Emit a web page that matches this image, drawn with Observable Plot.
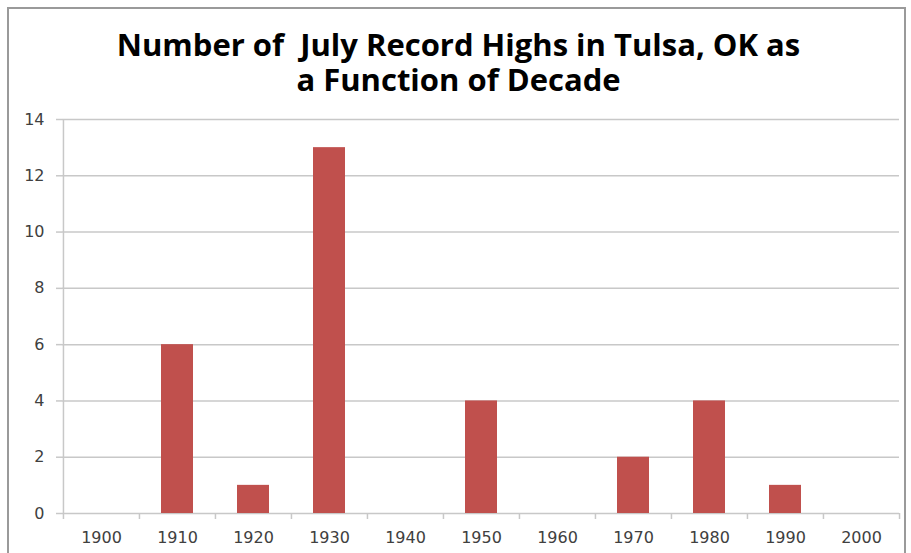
<!DOCTYPE html>
<html>
<head>
<meta charset="utf-8">
<script src="https://cdn.jsdelivr.net/npm/d3@7"></script>
<script src="https://cdn.jsdelivr.net/npm/@observablehq/plot@0.6"></script>
<style>
  html, body { margin: 0; padding: 0; background: #fff; overflow: hidden; }
  #frame { position: absolute; left: 7px; top: 7px; width: 899px; height: 600px; border: 2px solid #9a9a9a; box-sizing: border-box; }
  #title { position: absolute; left: 0; top: 27px; width: 917px; text-align: center; font-family: "Open Sans", sans-serif; font-weight: bold; font-size: 31px; line-height: 35px; color: #000; white-space: pre; }
  #chart { position: absolute; left: 0; top: 0; }
</style>
</head>
<body>
<div id="frame"></div>
<div id="title">Number of  July Record Highs in Tulsa, OK as
a Function of Decade</div>
<div id="chart"></div>
<script>
const decades = ["1900","1910","1920","1930","1940","1950","1960","1970","1980","1990","2000"];
const counts  = [0, 6, 1, 13, 0, 4, 0, 2, 4, 1, 0];
const yTicks  = [0, 2, 4, 6, 8, 10, 12, 14];

const data = decades.map((d, i) => ({decade: d, count: counts[i]}));

const W = 911, H = 553;
const mL = 62, mR = 12, mT = 119, mB = 40;
const step = (W - mL - mR) / decades.length;
const gridColor = "#c8c8c8";
const font = "DejaVu Sans, sans-serif";

const chart = Plot.plot({
  width: W,
  height: H,
  marginLeft: mL,
  marginRight: mR,
  marginTop: mT,
  marginBottom: mB,
  style: { fontFamily: font, fontSize: "16px", color: "#404040", background: "transparent", overflow: "visible" },
  x: { type: "band", domain: decades, paddingInner: 0.58, paddingOuter: 0.29 },
  y: { domain: [0, 14] },
  marks: [
    Plot.gridY(yTicks, { stroke: gridColor, strokeOpacity: 1, strokeWidth: 1.5 }),
    Plot.axisY(yTicks, { tickSize: 6, tickPadding: 12, stroke: gridColor, strokeOpacity: 1, strokeWidth: 1.5, fill: "#404040", label: null, fontSize: 16, style: "letter-spacing: 1px" }),
    Plot.ruleX(decades, { x: d => d, y1: 0, y2: 0, dx: -step / 2, insetBottom: -6, stroke: gridColor, strokeWidth: 1.5 }),
    Plot.ruleX([decades[decades.length - 1]], { x: d => d, y1: 0, y2: 0, dx: step / 2, insetBottom: -6, stroke: gridColor, strokeWidth: 1.5 }),
    Plot.ruleX([decades[0]], { x: d => d, y1: 0, y2: 14, dx: -step / 2, stroke: gridColor, strokeWidth: 1.5 }),
    Plot.barY(data, { x: "decade", y: "count", fill: "#c0504d" }),
    Plot.axisX({ tickSize: 0, tickPadding: 18, fill: "#404040", label: null, fontSize: 16, style: "letter-spacing: 1.5px" })
  ]
});
document.getElementById("chart").appendChild(chart);
</script>
</body>
</html>
